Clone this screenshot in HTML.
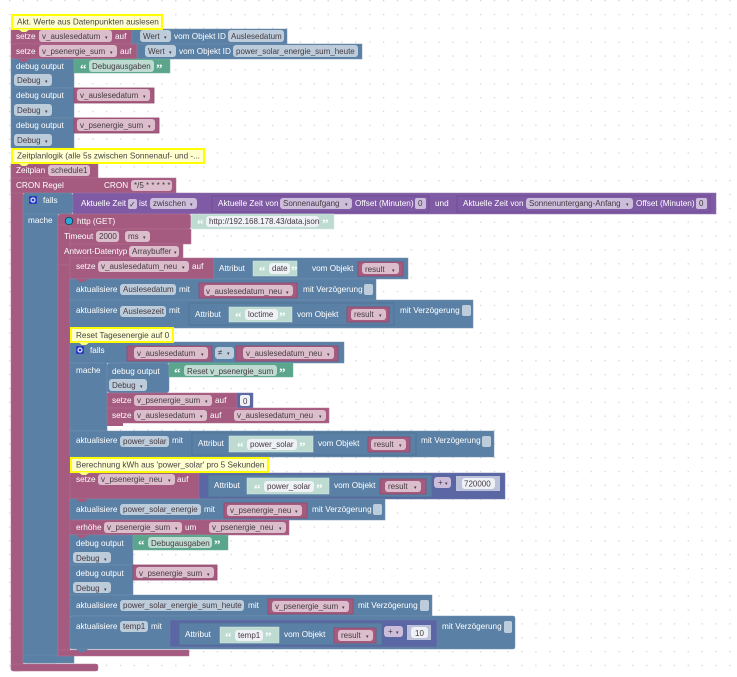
<!DOCTYPE html>
<html><head><meta charset="utf-8"><style>
html,body{margin:0;padding:0;background:#fff;width:737px;height:677px;overflow:hidden}
svg{display:block;font-family:"Liberation Sans",sans-serif;font-size:8.2px;filter:blur(.3px)}
text[font-family]{font-size:13px;font-weight:bold}
.w{fill:#fff}
.d{fill:#453a41}
.d:not([font-size]){font-size:8px}
.p{fill:#a55b80;stroke:#b0708f;stroke-width:.5}
.pv{fill:#a55b80;stroke:#8f4a6d;stroke-width:.8}
.b{fill:#5b80a5;stroke:#7290ae;stroke-width:.5}
.g{fill:#5ba58c;stroke:#72b09b;stroke-width:.5}
.lg{fill:#bddbd1;stroke:#d5e8e2;stroke-width:.5}
.v{fill:#805ba5;stroke:#9070ae;stroke-width:.5}
.i{fill:#5b67a5;stroke:#727cae;stroke-width:.5}
.il{fill:#bdc2db}
.fp{fill:#dbbdcc}.fb{fill:#bdccdb}.fv{fill:#ccbddb}.fg{fill:#bddbd1}.fw{fill:#eef1f5}
.y{fill:#ffffcf;stroke:#ffff00;stroke-width:2}
.ol{fill:#5b80a5;stroke:#4f7091;stroke-width:.8}
.olv{fill:none;stroke:#6c4b8e;stroke-width:.8}
.ny{fill:#ffff80}.nb{fill:#5b80a5}.np{fill:#a55b80}
</style></head><body>
<svg width="737" height="677" viewBox="0 0 737 677" xmlns="http://www.w3.org/2000/svg">
<defs><pattern id="dots" x="9" y="0" width="13.85" height="13.85" patternUnits="userSpaceOnUse"><rect width="1.3" height="1.3" x="0" y="0" fill="#d4d4d4"/></pattern></defs>
<rect width="737" height="677" fill="url(#dots)"/>

<!-- bottom feet and rails -->
<rect class="p" x="11" y="163" width="12" height="508" rx="3"/>
<rect class="p" x="11" y="664" width="87" height="7" rx="2"/>
<rect class="b" x="23" y="193" width="35" height="470" rx="3"/>
<rect class="b" x="23" y="655" width="51" height="8"/>
<rect class="p" x="58" y="214" width="12" height="442" rx="3"/>
<rect class="p" x="58" y="650" width="131" height="6"/>
<rect class="p" x="23" y="178" width="2" height="15"/>

<!-- top statements -->
<rect class="p" x="11" y="29" width="121" height="15"/>
<rect class="b" x="132" y="29" width="155" height="15"/>
<rect class="p" x="11" y="44" width="126" height="15"/>
<rect class="b" x="137" y="44" width="225" height="15"/>
<rect class="b" x="11" y="59" width="63" height="29"/>
<rect class="g" x="74" y="59" width="96" height="14"/>
<rect class="b" x="11" y="88" width="63" height="30"/>
<rect class="pv" x="74" y="88" width="80" height="15"/>
<rect class="b" x="11" y="118" width="63" height="30"/>
<rect class="pv" x="74" y="118" width="85" height="15"/>

<rect class="y" x="12" y="15" width="150" height="14"/>
<text x="17" y="24.5" fill="#444">Akt. Werte aus Datenpunkten auslesen</text>
<polygon class="ny" points="18,29 22,32 26,32 30,29"/>
<polygon class="np" points="18,44 22,47 26,47 30,44"/>
<polygon class="np" points="18,59 22,62 26,62 30,59"/>
<polygon class="nb" points="18,148 22,151 26,151 30,148"/>
<polygon class="ny" points="18,163 22,166 26,166 30,163"/>

<text class="w" x="16" y="39">setze</text>
<rect class="fp" x="39" y="30" width="73" height="12" rx="3"/><text class="d" x="42" y="39">v_auslesedatum</text><text class="d" x="105" y="39" font-size="5">▾</text>
<text class="w" x="115" y="39">auf</text>
<rect class="fb" x="140" y="30" width="31" height="12" rx="3"/><text class="d" x="143" y="39">Wert</text><text class="d" x="164" y="39" font-size="5">▾</text>
<text class="w" x="174" y="39">vom Objekt ID</text>
<rect class="fb" x="228" y="30" width="56" height="12" rx="3"/><text class="d" x="231" y="39">Auslesedatum</text>

<text class="w" x="16" y="54">setze</text>
<rect class="fp" x="39" y="45" width="78" height="12" rx="3"/><text class="d" x="42" y="54">v_psenergie_sum</text><text class="d" x="110" y="54" font-size="5">▾</text>
<text class="w" x="120" y="54">auf</text>
<rect class="fb" x="145" y="45" width="31" height="12" rx="3"/><text class="d" x="148" y="54">Wert</text><text class="d" x="169" y="54" font-size="5">▾</text>
<text class="w" x="179" y="54">vom Objekt ID</text>
<rect class="fb" x="233" y="45" width="125" height="12" rx="3"/><text class="d" x="236" y="54">power_solar_energie_sum_heute</text>

<text class="w" x="16" y="69">debug output</text>
<text class="w" x="80" y="73" font-size="11" font-family="Liberation Serif">“</text>
<rect class="fg" x="89" y="60" width="65" height="12" rx="3"/><text class="d" x="92" y="69">Debugausgaben</text>
<text class="w" x="156" y="73" font-size="11" font-family="Liberation Serif">”</text>
<rect class="fb" x="14" y="74" width="38" height="12" rx="3"/><text class="d" x="17" y="83">Debug</text><text class="d" x="45" y="83" font-size="5">▾</text>

<text class="w" x="16" y="98">debug output</text>
<rect class="fp" x="77" y="89" width="73" height="12" rx="3"/><text class="d" x="80" y="98">v_auslesedatum</text><text class="d" x="143" y="98" font-size="5">▾</text>
<rect class="fb" x="14" y="104" width="38" height="12" rx="3"/><text class="d" x="17" y="113">Debug</text><text class="d" x="45" y="113" font-size="5">▾</text>

<text class="w" x="16" y="128">debug output</text>
<rect class="fp" x="77" y="119" width="78" height="12" rx="3"/><text class="d" x="80" y="128">v_psenergie_sum</text><text class="d" x="148" y="128" font-size="5">▾</text>
<rect class="fb" x="14" y="134" width="38" height="12" rx="3"/><text class="d" x="17" y="143">Debug</text><text class="d" x="45" y="143" font-size="5">▾</text>

<!-- schedule -->
<rect class="p" x="11" y="163" width="87" height="15"/>
<rect class="p" x="11" y="178" width="165" height="15"/>
<rect class="y" x="12" y="149" width="192" height="14"/>
<text x="17" y="158.5" fill="#444">Zeitplanlogik (alle 5s zwischen Sonnenauf- und -...</text>
<polygon class="ny" points="18,163 22,166 26,166 30,163"/>
<text class="w" x="16" y="173">Zeitplan</text>
<rect class="fp" x="48" y="165" width="42" height="11" rx="3"/><text class="d" x="51" y="173">schedule1</text>
<text class="w" x="16" y="188">CRON Regel</text>
<text class="w" x="104" y="188">CRON</text>
<rect class="fp" x="131" y="180" width="41" height="11" rx="3"/><text class="d" x="134" y="188">*/5 * * * * *</text>

<!-- falls 1 -->
<rect class="b" x="23" y="193" width="50" height="21" rx="3"/>
<rect class="v" x="73" y="193" width="643" height="21"/>
<rect x="29" y="196" width="8" height="8" rx="1" fill="#2a3cc0"/><circle cx="33" cy="200" r="2" fill="none" stroke="#dfe6ff" stroke-width="1.2"/>
<text class="w" x="43" y="203">falls</text>
<text class="w" x="28" y="223">mache</text>
<text class="w" x="81" y="206">Aktuelle Zeit</text>
<rect class="fv" x="128" y="199" width="9" height="10" rx="2"/><text class="d" x="129" y="207">✓</text>
<text class="w" x="139" y="206">ist</text>
<rect class="fv" x="150" y="198" width="47" height="11" rx="3"/><text class="d" x="153" y="206">zwischen</text><text class="d" x="190" y="206" font-size="5">▾</text>
<rect class="olv" x="212" y="196" width="217" height="16"/>
<text class="w" x="218" y="206">Aktuelle Zeit von</text>
<rect class="fv" x="280" y="198" width="72" height="11" rx="3"/><text class="d" x="283" y="206">Sonnenaufgang</text><text class="d" x="345" y="206" font-size="5">▾</text>
<text class="w" x="355" y="206">Offset (Minuten)</text>
<rect class="fv" x="415" y="198" width="11" height="11" rx="2"/><text class="d" x="418" y="206">0</text>
<text class="w" x="435" y="206">und</text>
<rect class="olv" x="457" y="196" width="253" height="16"/>
<text class="w" x="463" y="206">Aktuelle Zeit von</text>
<rect class="fv" x="526" y="198" width="107" height="11" rx="3"/><text class="d" x="529" y="206">Sonnenuntergang-Anfang</text><text class="d" x="626" y="206" font-size="5">▾</text>
<text class="w" x="636" y="206">Offset (Minuten)</text>
<rect class="fv" x="696" y="198" width="11" height="11" rx="2"/><text class="d" x="699" y="206">0</text>

<!-- http -->
<rect class="p" x="58" y="214" width="133" height="15" rx="3"/>
<rect class="p" x="58" y="229" width="133" height="15"/>
<rect class="p" x="58" y="244" width="125" height="14"/>
<rect class="p" x="58" y="225" width="12" height="40"/>
<circle cx="69" cy="221" r="3.8" fill="#29a8d8" stroke="#123" stroke-width=".7"/>
<text class="w" x="77" y="224">http (GET)</text>
<rect class="lg" x="191" y="214" width="143" height="15"/>
<text x="197" y="228" font-size="11" font-family="Liberation Serif" fill="#fff">“</text>
<rect class="fw" x="206" y="216" width="113" height="11" rx="3"/><text class="d" x="209" y="224">http://192.168.178.43/data.json</text>
<text x="322" y="228" font-size="11" font-family="Liberation Serif" fill="#fff">”</text>
<text class="w" x="64" y="239">Timeout</text>
<rect class="fp" x="96" y="231" width="23" height="11" rx="3"/><text class="d" x="99" y="239">2000</text>
<rect class="fp" x="125" y="231" width="25" height="11" rx="3"/><text class="d" x="128" y="239">ms</text><text class="d" x="143" y="239" font-size="5">▾</text>
<text class="w" x="64" y="254">Antwort-Datentyp</text>
<rect class="fp" x="129" y="246" width="50" height="11" rx="3"/><text class="d" x="132" y="254">Arraybuffer</text><text class="d" x="174" y="254" font-size="5">▾</text>

<!-- setze neu -->
<rect class="p" x="70" y="258" width="144" height="21"/>
<rect class="b" x="214" y="258" width="194" height="21"/>
<text class="w" x="76" y="269">setze</text>
<rect class="fp" x="98" y="261" width="91" height="11" rx="3"/><text class="d" x="101" y="269">v_auslesedatum_neu</text><text class="d" x="182" y="269" font-size="5">▾</text>
<text class="w" x="192" y="269">auf</text>
<text class="w" x="219" y="271">Attribut</text>
<rect class="lg" x="253" y="261" width="44" height="15"/>
<text x="259" y="275" font-size="11" font-family="Liberation Serif" fill="#fff">“</text>
<rect class="fw" x="269" y="263" width="21" height="11" rx="3"/><text class="d" x="272" y="271">date</text>
<text x="291" y="275" font-size="11" font-family="Liberation Serif" fill="#fff">”</text>
<text class="w" x="312" y="271">vom Objekt</text>
<rect class="pv" x="358" y="262" width="45" height="14"/>
<rect class="fp" x="362" y="263" width="37" height="11" rx="3"/><text class="d" x="365" y="272">result</text><text class="d" x="392" y="272" font-size="5">▾</text>

<rect class="b" x="70" y="279" width="306" height="21"/>
<polygon class="np" points="76,279 80,282 84,282 88,279"/>
<text class="w" x="76" y="292">aktualisiere</text>
<rect class="fb" x="120" y="284" width="56" height="11" rx="3"/><text class="d" x="123" y="292">Auslesedatum</text>
<text class="w" x="179" y="292">mit</text>
<rect class="pv" x="199" y="283" width="98" height="15"/>
<rect class="fp" x="204" y="285" width="89" height="11" rx="3"/><text class="d" x="206" y="294">v_auslesedatum_neu</text><text class="d" x="286" y="294" font-size="5">▾</text>
<text class="w" x="303" y="292">mit Verzögerung</text>
<rect class="fb" x="364" y="284" width="9" height="11" rx="2"/>

<rect class="b" x="70" y="300" width="403" height="28"/>
<text class="w" x="76" y="313">aktualisiere</text>
<rect class="fb" x="120" y="306" width="46" height="11" rx="3"/><text class="d" x="123" y="314">Auslesezeit</text>
<text class="w" x="169" y="313">mit</text>
<rect class="ol" x="189" y="303" width="205" height="22"/>
<text class="w" x="195" y="317">Attribut</text>
<rect class="lg" x="229" y="307" width="63" height="15"/>
<text x="235" y="321" font-size="11" font-family="Liberation Serif" fill="#fff">“</text>
<rect class="fw" x="245" y="309" width="33" height="11" rx="3"/><text class="d" x="248" y="317">loctime</text>
<text x="279" y="321" font-size="11" font-family="Liberation Serif" fill="#fff">”</text>
<text class="w" x="297" y="317">vom Objekt</text>
<rect class="pv" x="347" y="307" width="42" height="15"/>
<rect class="fp" x="351" y="309" width="35" height="11" rx="3"/><text class="d" x="354" y="317">result</text><text class="d" x="379" y="317" font-size="5">▾</text>
<text class="w" x="400" y="313">mit Verzögerung</text>
<rect class="fb" x="462" y="305" width="9" height="11" rx="2"/>

<!-- falls 2 -->
<rect class="b" x="70" y="342" width="274" height="21"/>
<rect class="b" x="70" y="363" width="37" height="68"/>
<rect class="y" x="71" y="328" width="102" height="14"/>
<text x="76" y="338" fill="#444">Reset Tagesenergie auf 0</text>
<polygon class="ny" points="78,342 82,345 86,345 90,342"/>
<rect x="76" y="346" width="8" height="8" rx="1" fill="#2a3cc0"/><circle cx="80" cy="350" r="2" fill="none" stroke="#dfe6ff" stroke-width="1.2"/>
<text class="w" x="90" y="353">falls</text>
<text class="w" x="76" y="373">mache</text>
<rect class="pv" x="127" y="346" width="85" height="15"/>
<rect class="fp" x="134" y="347" width="74" height="12" rx="3"/><text class="d" x="137" y="356">v_auslesedatum</text><text class="d" x="201" y="356" font-size="5">▾</text>
<rect class="fb" x="215" y="347" width="19" height="12" rx="3"/><text class="d" x="218" y="355">≠</text><text class="d" x="227" y="355" font-size="5">▾</text>
<rect class="pv" x="236" y="346" width="102" height="15"/>
<rect class="fp" x="243" y="347" width="91" height="12" rx="3"/><text class="d" x="246" y="356">v_auslesedatum_neu</text><text class="d" x="327" y="356" font-size="5">▾</text>

<rect class="b" x="107" y="363" width="62" height="30" rx="3"/>
<text class="w" x="112" y="374">debug output</text>
<rect class="g" x="169" y="363" width="124" height="14"/>
<text class="w" x="174" y="377" font-size="11" font-family="Liberation Serif">“</text>
<rect class="fg" x="184" y="365" width="93" height="11" rx="3"/><text class="d" x="187" y="374">Reset v_psenergie_sum</text>
<text class="w" x="279" y="377" font-size="11" font-family="Liberation Serif">”</text>
<rect class="fb" x="109" y="379" width="38" height="12" rx="3"/><text class="d" x="112" y="388">Debug</text><text class="d" x="140" y="388" font-size="5">▾</text>
<rect class="p" x="107" y="393" width="130" height="15"/>
<rect class="i" x="237" y="393" width="16" height="15"/>
<rect class="fw" x="240" y="395" width="10" height="11" rx="2"/><text class="d" x="243" y="404">0</text>
<text class="w" x="112" y="403">setze</text>
<rect class="fp" x="134" y="395" width="78" height="11" rx="3"/><text class="d" x="137" y="403">v_psenergie_sum</text><text class="d" x="205" y="403" font-size="5">▾</text>
<text class="w" x="215" y="403">auf</text>
<rect class="p" x="107" y="408" width="222" height="15"/>
<text class="w" x="112" y="418">setze</text>
<rect class="fp" x="134" y="410" width="73" height="11" rx="3"/><text class="d" x="137" y="418">v_auslesedatum</text><text class="d" x="200" y="418" font-size="5">▾</text>
<text class="w" x="210" y="418">auf</text>
<rect class="fp" x="234" y="410" width="92" height="11" rx="3"/><text class="d" x="237" y="418">v_auslesedatum_neu</text><text class="d" x="319" y="418" font-size="5">▾</text>
<rect x="107" y="423" width="16" height="3" fill="#a55b80"/>

<!-- power solar -->
<rect class="b" x="70" y="431" width="424" height="26"/>
<text class="w" x="76" y="443">aktualisiere</text>
<rect class="fb" x="120" y="436" width="49" height="11" rx="3"/><text class="d" x="123" y="444">power_solar</text>
<text class="w" x="172" y="443">mit</text>
<rect class="ol" x="192" y="433" width="224" height="22"/>
<text class="w" x="198" y="446">Attribut</text>
<rect class="lg" x="229" y="436" width="84" height="16"/>
<text x="237" y="451" font-size="11" font-family="Liberation Serif" fill="#fff">“</text>
<rect class="fw" x="247" y="439" width="50" height="11" rx="3"/><text class="d" x="250" y="447">power_solar</text>
<text x="299" y="451" font-size="11" font-family="Liberation Serif" fill="#fff">”</text>
<text class="w" x="318" y="446">vom Objekt</text>
<rect class="pv" x="368" y="437" width="42" height="15"/>
<rect class="fp" x="371" y="439" width="35" height="11" rx="3"/><text class="d" x="374" y="447">result</text><text class="d" x="399" y="447" font-size="5">▾</text>
<text class="w" x="421" y="443">mit Verzögerung</text>
<rect class="fb" x="482" y="436" width="9" height="11" rx="2"/>

<!-- setze psenergie neu -->
<rect class="p" x="70" y="473" width="129" height="26"/>
<rect class="i" x="199" y="473" width="306" height="26"/>
<rect class="y" x="71" y="458" width="197" height="14"/>
<text x="76" y="467.5" fill="#444">Berechnung kWh aus 'power_solar' pro 5 Sekunden</text>
<polygon class="ny" points="78,472 82,475 86,475 90,472"/>
<text class="w" x="76" y="482">setze</text>
<rect class="fp" x="98" y="474" width="77" height="11" rx="3"/><text class="d" x="101" y="482">v_psenergie_neu</text><text class="d" x="168" y="482" font-size="5">▾</text>
<text class="w" x="177" y="482">auf</text>
<rect class="ol" x="208" y="475" width="224" height="22"/>
<text class="w" x="214" y="488">Attribut</text>
<rect class="lg" x="247" y="478" width="82" height="16"/>
<text x="254" y="493" font-size="11" font-family="Liberation Serif" fill="#fff">“</text>
<rect class="fw" x="264" y="481" width="50" height="11" rx="3"/><text class="d" x="267" y="489">power_solar</text>
<text x="316" y="493" font-size="11" font-family="Liberation Serif" fill="#fff">”</text>
<text class="w" x="334" y="488">vom Objekt</text>
<rect class="pv" x="380" y="479" width="46" height="15"/>
<rect class="fp" x="385" y="481" width="36" height="11" rx="3"/><text class="d" x="388" y="489">result</text><text class="d" x="414" y="489" font-size="5">▾</text>
<rect class="fv" x="434" y="477" width="17" height="11" rx="3"/><text class="d" x="438" y="485">+</text><text class="d" x="445" y="485" font-size="5">▾</text>
<rect class="il" x="456" y="476" width="44" height="15"/>
<rect class="fw" x="462" y="478" width="33" height="11" rx="3"/><text class="d" x="464" y="486.500">720000</text>

<!-- after -->
<rect class="b" x="70" y="499" width="315" height="21"/>
<polygon class="np" points="76,499 80,502 84,502 88,499"/>
<text class="w" x="76" y="512">aktualisiere</text>
<rect class="fb" x="120" y="504" width="81" height="11" rx="3"/><text class="d" x="123" y="512">power_solar_energie</text>
<text class="w" x="204" y="512">mit</text>
<rect class="pv" x="224" y="503" width="83" height="15"/>
<rect class="fp" x="227" y="505" width="75" height="11" rx="3"/><text class="d" x="230" y="513">v_psenergie_neu</text><text class="d" x="295" y="513" font-size="5">▾</text>
<text class="w" x="312" y="512">mit Verzögerung</text>
<rect class="fb" x="373" y="504" width="9" height="11" rx="2"/>

<rect class="p" x="70" y="520" width="219" height="15"/>
<text class="w" x="76" y="530">erhöhe</text>
<rect class="fp" x="104" y="522" width="78" height="11" rx="3"/><text class="d" x="107" y="530">v_psenergie_sum</text><text class="d" x="175" y="530" font-size="5">▾</text>
<text class="w" x="185" y="530">um</text>
<rect class="fp" x="209" y="522" width="77" height="11" rx="3"/><text class="d" x="212" y="530">v_psenergie_neu</text><text class="d" x="279" y="530" font-size="5">▾</text>

<rect class="b" x="70" y="535" width="63" height="30"/>
<polygon class="np" points="76,535 80,538 84,538 88,535"/>
<text class="w" x="76" y="546">debug output</text>
<rect class="g" x="133" y="535" width="95" height="15"/>
<text class="w" x="138" y="549" font-size="11" font-family="Liberation Serif">“</text>
<rect class="fg" x="148" y="537" width="64" height="11" rx="3"/><text class="d" x="151" y="546">Debugausgaben</text>
<text class="w" x="214" y="549" font-size="11" font-family="Liberation Serif">”</text>
<rect class="fb" x="73" y="552" width="38" height="11" rx="3"/><text class="d" x="76" y="561">Debug</text><text class="d" x="104" y="561" font-size="5">▾</text>

<rect class="b" x="70" y="565" width="63" height="30"/>
<text class="w" x="76" y="576">debug output</text>
<rect class="pv" x="133" y="565" width="84" height="15"/>
<rect class="fp" x="136" y="567" width="78" height="11" rx="3"/><text class="d" x="139" y="576">v_psenergie_sum</text><text class="d" x="207" y="576" font-size="5">▾</text>
<rect class="fb" x="73" y="582" width="38" height="11" rx="3"/><text class="d" x="76" y="591">Debug</text><text class="d" x="104" y="591" font-size="5">▾</text>

<rect class="b" x="70" y="595" width="362" height="21"/>
<text class="w" x="76" y="608">aktualisiere</text>
<rect class="fb" x="120" y="600" width="124" height="11" rx="3"/><text class="d" x="123" y="608">power_solar_energie_sum_heute</text>
<text class="w" x="248" y="608">mit</text>
<rect class="pv" x="268" y="599" width="85" height="15"/>
<rect class="fp" x="272" y="601" width="77" height="11" rx="3"/><text class="d" x="275" y="609">v_psenergie_sum</text><text class="d" x="342" y="609" font-size="5">▾</text>
<text class="w" x="358" y="608">mit Verzögerung</text>
<rect class="fb" x="420" y="600" width="9" height="11" rx="2"/>

<rect class="b" x="70" y="616" width="445" height="33" rx="2"/>
<polygon class="nb" points="76,649 80,652 84,652 88,649"/>
<text class="w" x="76" y="629">aktualisiere</text>
<rect class="fb" x="120" y="621" width="28" height="11" rx="3"/><text class="d" x="123" y="629">temp1</text>
<text class="w" x="151" y="629">mit</text>
<rect class="i" x="170" y="620" width="267" height="27"/>
<rect class="ol" x="179" y="623" width="203" height="22"/>
<text class="w" x="185" y="637">Attribut</text>
<rect class="lg" x="220" y="627" width="59" height="16"/>
<text x="225" y="641" font-size="11" font-family="Liberation Serif" fill="#fff">“</text>
<rect class="fw" x="235" y="630" width="28" height="11" rx="3"/><text class="d" x="238" y="638">temp1</text>
<text x="265" y="641" font-size="11" font-family="Liberation Serif" fill="#fff">”</text>
<text class="w" x="284" y="637">vom Objekt</text>
<rect class="pv" x="334" y="628" width="42" height="15"/>
<rect class="fp" x="338" y="630" width="35" height="11" rx="3"/><text class="d" x="341" y="638">result</text><text class="d" x="366" y="638" font-size="5">▾</text>
<rect class="fv" x="384" y="626" width="19" height="11" rx="3"/><text class="d" x="388" y="634">+</text><text class="d" x="396" y="634" font-size="5">▾</text>
<rect class="il" x="407" y="625" width="24" height="15"/>
<rect class="fw" x="411" y="627" width="17" height="11" rx="3"/><text class="d" x="415" y="636">10</text>
<text class="w" x="442" y="629">mit Verzögerung</text>
<rect class="fb" x="504" y="621" width="8" height="12" rx="2"/>
</svg>
</body></html>
